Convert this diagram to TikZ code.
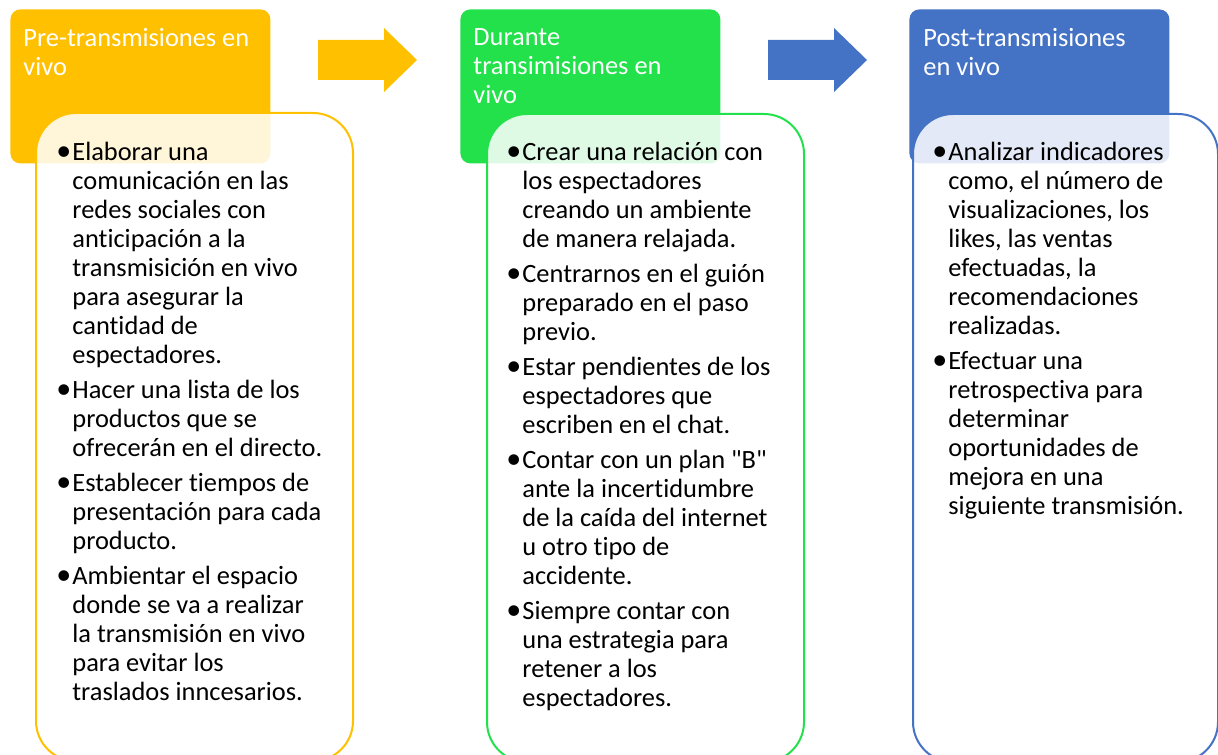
\documentclass[tikz,border=0pt]{standalone}
\usepackage{fontspec}
\setmainfont{Carlito}[Ligatures={NoCommon,TeXOff}]
\usepackage{xcolor}

\definecolor{preorange}{HTML}{FFC000}
\definecolor{livegreen}{HTML}{22E14B}
\definecolor{postblue}{HTML}{4472C4}

\newcommand{\bitem}{\llap{{\fontsize{15}{14.5}\selectfont •}\hspace{0.6pt}}}

\tikzset{
	headbox/.style={fill=#1, rounded corners=5pt, anchor=north west, inner sep=0pt, minimum width=130pt, minimum height=77pt},
	headtext/.style={anchor=north west, inner sep=0pt, align=left, text=white, font=\fontsize{13.2}{14.5}\selectfont},
	bodybox/.style={draw=#1, line width=1pt, fill=white, fill opacity=0.85, rounded corners=20pt, anchor=north west, inner sep=0pt, minimum width=158.5pt, minimum height=324pt},
	bodytext/.style={anchor=north west, inner sep=0pt, align=left, font=\fontsize{13.2}{14.5}\selectfont},
}

\begin{document}
\begin{tikzpicture}[x=0.5pt, y=-0.5pt]
	\useasboundingbox (0, 0) rectangle (1218, 754);

	\begin{scope}[xshift=0pt]
		\node[headbox=preorange] (pre) at (10, 9) {};
		\node[headtext] (pretitle) at (23, 28) {Pre-transmisiones en\\vivo};

		\node[bodybox=preorange] (prebody) at (35, 112) {};
		\node[bodytext] (prelist) at (72, 142) {%
			\bitem Elaborar una\\comunicación en las\\redes sociales con\\anticipación a la\\transmisición en vivo\\para asegurar la\\cantidad de\\espectadores.\\[3pt]
			\bitem Hacer una lista de los\\productos que se\\ofrecerán en el directo.\\[3pt]
			\bitem Establecer tiempos de\\presentación para cada\\producto.\\[3pt]
			\bitem Ambientar el espacio\\donde se va a realizar\\la transmisión en vivo\\para evitar los\\traslados inncesarios.};

		% block arrow to the next step
		\fill[preorange] (318, 40) -- (384, 40) -- (384, 28) -- (417, 60) -- (384, 92) -- (384, 80) -- (318, 80) -- cycle;
	\end{scope}

	\begin{scope}[xshift=225pt]
		\node[headbox=livegreen] (live) at (10, 9) {};
		\node[headtext] (livetitle) at (23, 28) {Durante\\transimisiones en\\vivo};

		\node[bodybox=livegreen] (livebody) at (36, 113) {};
		\node[bodytext] (livelist) at (72, 142) {%
			\bitem Crear una relación con\\los espectadores\\creando un ambiente\\de manera relajada.\\[3pt]
			\bitem Centrarnos en el guión\\preparado en el paso\\previo.\\[3pt]
			\bitem Estar pendientes de los\\espectadores que\\escriben en el chat.\\[3pt]
			\bitem Contar con un plan "B"\\ante la incertidumbre\\de la caída del internet\\u otro tipo de\\accidente.\\[3pt]
			\bitem Siempre contar con\\una estrategia para\\retener a los\\espectadores.};

		% block arrow to the next step
		\fill[postblue] (318, 40) -- (384, 40) -- (384, 28) -- (417, 60) -- (384, 92) -- (384, 80) -- (318, 80) -- cycle;
	\end{scope}

	\begin{scope}[xshift=449.5pt]
		\node[headbox=postblue] (post) at (10, 9) {};
		\node[headtext] (posttitle) at (24, 28) {Post-transmisiones\\en vivo};

		\node[bodybox=postblue, minimum width=152.5pt] (postbody) at (13, 113) {};
		\node[bodytext] (postlist) at (49, 142) {%
			\bitem Analizar indicadores\\como, el número de\\visualizaciones, los\\likes, las ventas\\efectuadas, la\\recomendaciones\\realizadas.\\[3pt]
			\bitem Efectuar una\\retrospectiva para\\determinar\\oportunidades de\\mejora en una\\siguiente transmisión.};
	\end{scope}
\end{tikzpicture}
\end{document}
